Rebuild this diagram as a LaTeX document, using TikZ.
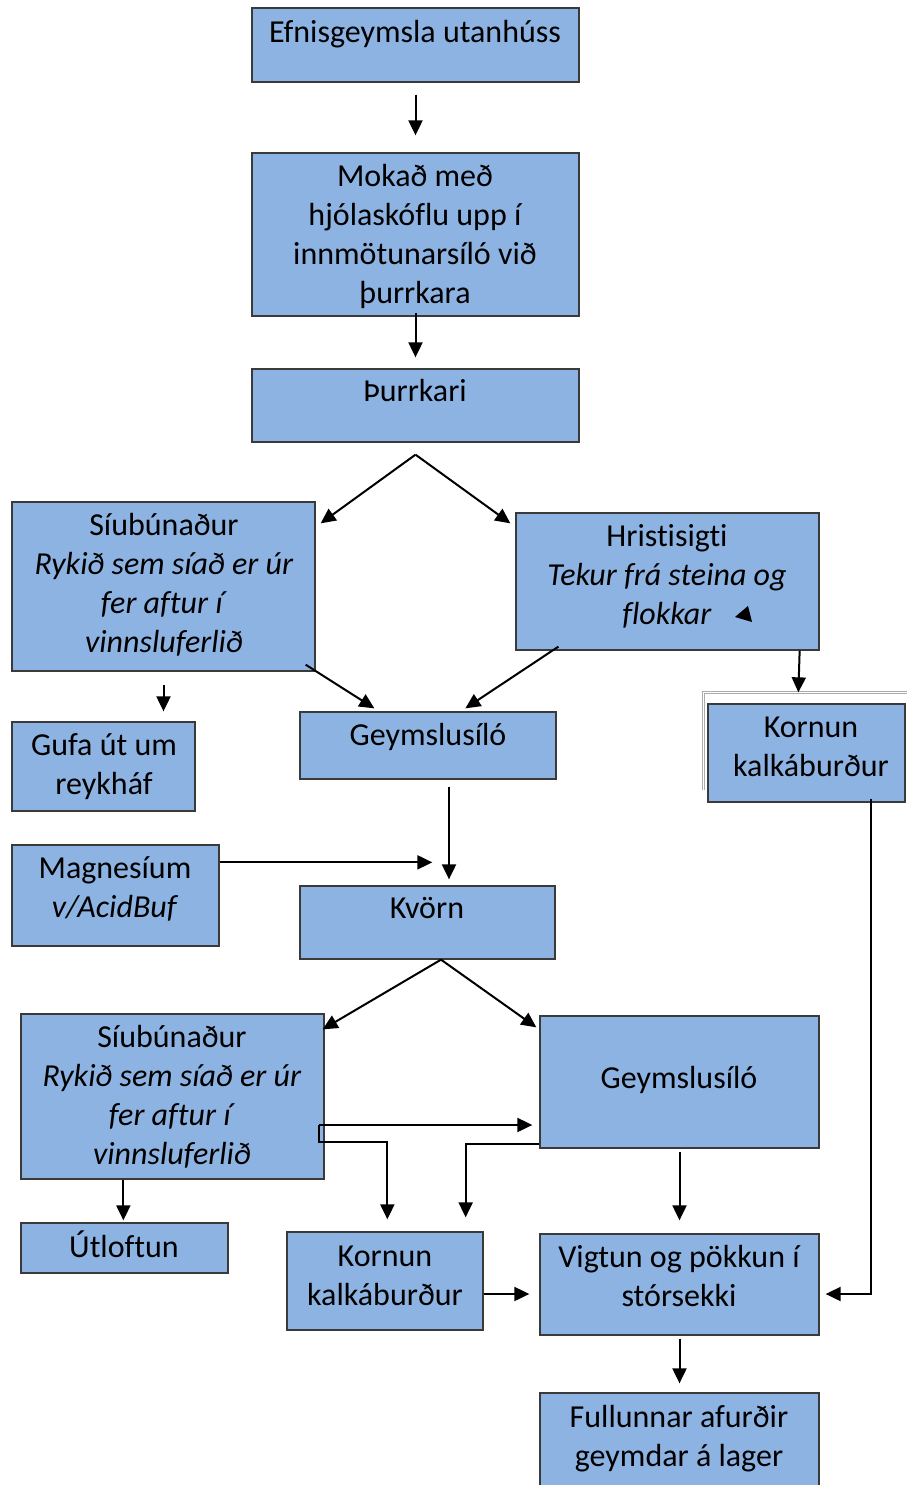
\documentclass[tikz,border=0pt]{standalone}
\usepackage{fontspec}
\setmainfont{Carlito}[Ligatures={NoCommon}]
\usetikzlibrary{arrows.meta,fit,calc}
\definecolor{boxblue}{HTML}{8DB3E2}
\definecolor{boxline}{HTML}{3A3A3A}
\newcommand{\tst}{\rule{0pt}{25pt}}
\begin{document}
\begin{tikzpicture}[x=1pt,y=-1pt,
  box/.style={draw=boxline, line width=1.3pt, fill=boxblue, inner sep=0pt},
  txt/.style={anchor=north, align=center, inner sep=0pt, font=\fontsize{32}{39}\selectfont},
  arr/.style={-{Triangle[length=15pt,width=14pt]}, line width=2pt},
  frame/.style={draw=gray!65, line width=0.8pt}]
\useasboundingbox (0,0) rectangle (906,1485);
% boxes
\node[box, fit={(252,8) (579,82)}] (n1) {};
\node[box, fit={(252,153) (579,316)}] (n2) {};
\node[box, fit={(252,369) (579,442)}] (n3) {};
\node[box, fit={(12,502) (315,671)}] (n4) {};
\node[box, fit={(516,513) (819,650)}] (n5) {};
\node[box, fit={(12,722) (195,811)}] (n6) {};
\node[box, fit={(300,712) (556,779)}] (n7) {};
\draw[frame] (702,790) -- (702,691) -- (912,691);
\draw[frame] (704.5,790) -- (704.5,693.5) -- (912,693.5);
\node[box, fit={(708,704) (905,802)}] (n8) {};
\node[box, fit={(12,845) (219,946)}] (n9) {};
\node[box, fit={(300,886) (555,959)}] (n10) {};
\node[box, fit={(21,1014) (324,1179)}] (n11) {};
\node[box, fit={(540,1016) (819,1148)}] (n12) {};
\node[box, fit={(21,1223) (228,1273)}] (n13) {};
\node[box, fit={(287,1232) (483,1330)}] (n14) {};
\node[box, fit={(540,1234) (819,1335)}] (n15) {};
\node[box, fit={(540,1393) (819,1492)}] (n16) {};
% texts
\node[txt] (t1) at (415,17) {\tst Efnisgeymsla utanhúss};
\node[txt] (t2) at (415,161) {\tst Mokað með\\hjólaskóflu upp í\\innmötunarsíló við\\þurrkara};
\node[txt] (t3) at (415,376) {\tst Þurrkari};
\node[txt] (t4) at (164,510) {\tst Síubúnaður\\\textit{Rykið sem síað er úr}\\\textit{fer aftur í}\\\textit{vinnsluferlið}};
\node[txt] (t5) at (667,521) {\tst Hristisigti\\\textit{Tekur frá steina og}\\\textit{flokkar}};
\node[txt] (t6) at (104,730) {\tst Gufa út um\\reykháf};
\node[txt] (t7) at (428,720) {\tst Geymslusíló};
\node[txt] (t8) at (811,712) {\tst Kornun\\kalkáburður};
\node[txt] (t9) at (115,853) {\tst Magnesíum\\\textit{v/AcidBuf}};
\node[txt] (t10) at (427,893) {\tst Kvörn};
\node[txt] (t11) at (172,1022) {\tst Síubúnaður\\\textit{Rykið sem síað er úr}\\\textit{fer aftur í}\\\textit{vinnsluferlið}};
\node[txt] (t12) at (679,1063) {\tst Geymslusíló};
\node[txt] (t13) at (124,1231) {\tst Útloftun};
\node[txt] (t14) at (385,1241) {\tst Kornun\\kalkáburður};
\node[txt] (t15) at (679,1242) {\tst Vigtun og pökkun í\\stórsekki};
\node[txt] (t16) at (679,1402) {\tst Fullunnar afurðir\\geymdar á lager};
% stray triangle
\fill (735,617) -- (748,606) -- (752,622) -- cycle;
% connectors
\coordinate (ap1) at ($(n3.south)+(0,12)$);
\coordinate (ap2) at ($(n10.south)+(13.5,0)$);
\draw[arr] ($(n1.south)+(0,12)$) -- ($(n2.north)+(0,-17)$);
\draw[arr] ($(n2.south)+(0,-4)$) -- ($(n3.north)+(0,-11)$);
\draw[arr] (ap1) -- ($(n4.north east)+(5,22)$);
\draw[arr] (ap1) -- ($(n5.north west)+(-5,11)$);
\draw[arr] ($(n4.south east)+(-10,-7)$) -- ($(n7.north west)+(75,-3)$);
\draw[arr] ($(n5.south west)+(43,-4)$) -- ($(n7.north west)+(166,-3)$);
\draw[arr] ($(n4.south)+(0,13)$) -- ($(n6.north)+(60,-10)$);
\draw[arr] ($(n5.south east)+(-20,0)$) -- ($(n8.north west)+(91,-11)$);
\draw[arr] ($(n7.south)+(21,7)$) -- ($(n10.north)+(21.5,-6)$);
\draw[arr] ($(n9.north east)+(0,18)$) -- ($(n10.north west)+(133,-23)$);
\draw[arr] (ap2) -- ($(n11.north east)+(-2,16)$);
\draw[arr] (ap2) -- ($(n12.north west)+(-3,12)$);
\draw[arr] ($(n11.south west)+(103,0)$) -- ($(n13.north west)+(103,-2)$);
\draw[arr] ($(n11.east)+(-6,28.5)$) -- ($(n12.west)+(-7,43)$);
\draw[arr] ($(n11.east)+(-6,28.5)$) -- ++(0,17) -| ($(n14.north west)+(101,-12)$);
\draw[arr] ($(n12.south west)+(0,-5)$) -| ($(n14.north east)+(-18,-14)$);
\draw[arr] ($(n12.south)+(0,3)$) -- ($(n15.north)+(0,-13)$);
\draw[arr] ($(n14.east)+(0,13)$) -- ($(n15.west)+(-10,9.5)$);
\draw[arr] ($(n8.south west)+(164,-4)$) |- ($(n15.east)+(6,9.5)$);
\draw[arr] ($(n15.south)+(0,3)$) -- ($(n16.north)+(0,-9)$);
\end{tikzpicture}
\end{document}
